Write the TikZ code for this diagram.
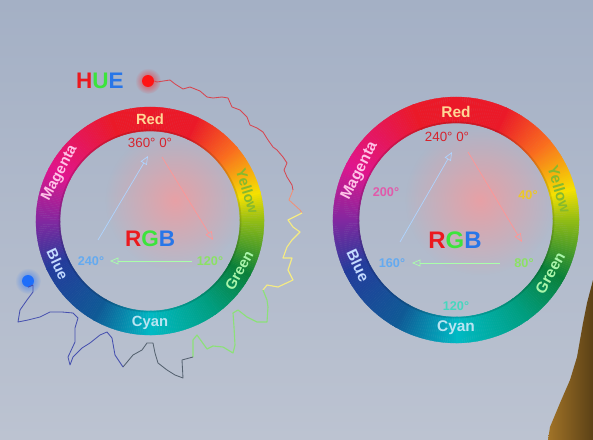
\documentclass[tikz,border=0pt]{standalone}
\usepackage{fontspec}
\setmainfont{Liberation Sans}
\usetikzlibrary{arrows.meta, fadings}

\definecolor{bgtop}{RGB}{164,176,197}
\definecolor{bgbot}{RGB}{188,195,209}
\definecolor{hcyan}{RGB}{0,186,196}
\definecolor{hteal}{RGB}{0,158,128}
\definecolor{hgreen}{RGB}{10,128,58}
\definecolor{hlime}{RGB}{150,190,20}
\definecolor{hyellow}{RGB}{245,225,0}
\definecolor{horange}{RGB}{250,110,30}
\definecolor{hred}{RGB}{235,25,40}
\definecolor{hmagenta}{RGB}{225,20,140}
\definecolor{hpurple}{RGB}{130,40,160}
\definecolor{hblue}{RGB}{35,60,155}
\definecolor{hnavy}{RGB}{15,90,150}
\definecolor{txtred}{RGB}{255,215,150}
\definecolor{txtyellow}{RGB}{135,185,45}
\definecolor{txtgreen}{RGB}{170,245,170}
\definecolor{txtcyan}{RGB}{185,228,242}
\definecolor{txtblue}{RGB}{195,218,255}
\definecolor{txtmagenta}{RGB}{255,195,232}
\definecolor{degred}{RGB}{215,35,45}
\definecolor{degblue}{RGB}{100,170,240}
\definecolor{deggreen}{RGB}{140,225,100}
\definecolor{degpink}{RGB}{225,90,170}
\definecolor{degyellow}{RGB}{235,200,40}
\definecolor{degcyan}{RGB}{70,215,190}
\definecolor{letR}{RGB}{235,25,30}
\definecolor{letG}{RGB}{60,228,60}
\definecolor{letB}{RGB}{40,118,232}
\definecolor{arrblue}{RGB}{175,212,255}
\definecolor{arrred}{RGB}{255,150,150}
\definecolor{arrgreen}{RGB}{170,255,170}
\definecolor{dotred}{RGB}{255,20,20}
\definecolor{dotblue}{RGB}{30,110,250}
\definecolor{wred}{RGB}{215,70,80}
\definecolor{wsalmon}{RGB}{240,145,120}
\definecolor{wyellow}{RGB}{245,235,130}
\definecolor{wgreen}{RGB}{140,225,120}
\definecolor{wgray}{RGB}{85,98,112}
\definecolor{wblue}{RGB}{70,80,175}
\definecolor{coat}{RGB}{140,100,34}

\tikzfading[name=softglow, inner color=transparent!30, outer color=transparent!100]

% colour ring: centre x, centre y, inner radius, outer radius (pixel units, y down)
\newcommand{\huering}[4]{%
  \foreach \sa/\sb/\ca/\cb in {-90/-55/hcyan/hteal, -55/-29/hteal/hgreen,
      -29/0/hgreen/hlime, 0/14/hlime/hyellow, 14/40/hyellow/horange,
      40/65/horange/hred, 65/110/hred/hred, 110/152/hred/hmagenta,
      152/180/hmagenta/hpurple, 180/205/hpurple/hblue, 205/240/hblue/hnavy,
      240/270/hnavy/hcyan}{
    \foreach \a in {\sa,...,\sb}{
      \pgfmathtruncatemacro\p{100*(\a-\sa)/(\sb-\sa)}
      \colorlet{segcol}{\cb!\p!\ca}
      \fill[fill=segcol, draw=segcol, line width=0.2pt]
        ({#1+#4*cos(\a)},{#2-#4*sin(\a)}) -- ({#1+#4*cos(\a+1)},{#2-#4*sin(\a+1)})
        -- ({#1+#3*cos(\a+1)},{#2-#3*sin(\a+1)}) -- ({#1+#3*cos(\a)},{#2-#3*sin(\a)}) -- cycle;
    }
  }
  % soft shade on the inner edge
  \draw[black, opacity=0.12, line width=1.2pt] (#1,#2) circle (#3+0.6);
}

\begin{document}
\begin{tikzpicture}[x=0.025cm, y=-0.025cm,
    ringtext/.style={font=\bfseries\fontsize{10.5}{12}\selectfont, inner sep=0pt},
    bigringtext/.style={font=\bfseries\fontsize{11}{13}\selectfont, inner sep=0pt},
    degtext/.style={font=\bfseries\fontsize{9}{11}\selectfont, inner sep=0pt},
    toptext/.style={font=\fontsize{9.5}{11}\selectfont, inner sep=0pt, text=degred},
    rgbtext/.style={font=\bfseries\fontsize{16}{18}\selectfont, inner sep=0pt},
    rgbarrow/.style={-{Triangle[open, length=6pt, width=5pt]}, line width=0.5pt},
    hdot/.style={circle, inner sep=0pt, minimum size=8.5pt},
    wiggle/.style={line width=0.6pt, line join=round}]
  \useasboundingbox (0,0) rectangle (593,440);
  % Background
  \shade[top color=bgtop, bottom color=bgbot] (0,0) rectangle (593,440);
  % Coat in the lower right corner
  \shade[left color=coat!115!black, right color=coat!65!black]
    (593,280) -- (587,303) -- (583,323) -- (577,357) -- (570,380)
    -- (560,403) -- (550,427) -- (548,440) -- (593,440) -- cycle;

  % Glow inside the wheels
  \fill[arrred, path fading=softglow] (175,200) circle (70);
  \fill[arrred, path fading=softglow] (480,200) circle (75);

  % Left hue wheel
  \huering{150}{221}{90}{114}
  \node[ringtext, text=txtred] (lRed) at (150,119) {Red};
  \node[ringtext, text=txtyellow, rotate=-73] (lYellow) at (247.5,191.2) {Yellow};
  \node[ringtext, text=txtgreen, rotate=61] (lGreen) at (239.2,270.4) {Green};
  \node[ringtext, text=txtcyan] (lCyan) at (150,323) {Cyan};
  \node[ringtext, text=txtblue, rotate=-65] (lBlue) at (57.6,264.1) {Blue};
  \node[ringtext, text=txtmagenta, rotate=62] (lMagenta) at (59.9,173.1) {Magenta};
  \node[toptext] (lTop) at (150,143) {360°~0°};
  \node[degtext, text=degblue] (lDeg240) at (91,261) {240°};
  \node[degtext, text=deggreen] (lDeg120) at (210,261) {120°};
  \node[rgbtext] (lRGB) at (150,239)
    {\textcolor{letR}{R}\textcolor{letG}{G}\textcolor{letB}{B}};
  \coordinate (lBlueTail) at (98,240);
  \coordinate (lBlueTip) at (148,156);
  \coordinate (lRedTail) at (162,157);
  \coordinate (lRedTip) at (213,240);
  \coordinate (lGreenTail) at (192,261);
  \coordinate (lGreenTip) at (110,261);
  \draw[rgbarrow, arrblue] (lBlueTail) -- (lBlueTip);
  \draw[rgbarrow, arrred] (lRedTail) -- (lRedTip);
  \draw[rgbarrow, arrgreen] (lGreenTail) -- (lGreenTip);

  % Right hue wheel
  \huering{456}{220}{97}{123}
  \node[bigringtext, text=txtred] (rRed) at (456,112) {Red};
  \node[bigringtext, text=txtyellow, rotate=-73.5] (rYellow) at (559.5,189.3) {Yellow};
  \node[bigringtext, text=txtgreen, rotate=60.6] (rGreen) at (550.1,273) {Green};
  \node[bigringtext, text=txtcyan] (rCyan) at (456,328) {Cyan};
  \node[bigringtext, text=txtblue, rotate=-65] (rBlue) at (358.1,265.6) {Blue};
  \node[bigringtext, text=txtmagenta, rotate=63] (rMagenta) at (359.8,171) {Magenta};
  \node[toptext] (rTop) at (447,137) {240°~0°};
  \node[degtext, text=degpink] (rDeg200) at (386,192) {200°};
  \node[degtext, text=degyellow] (rDeg40) at (528,195) {40°};
  \node[degtext, text=degblue] (rDeg160) at (392,263) {160°};
  \node[degtext, text=deggreen] (rDeg80) at (524,263) {80°};
  \node[degtext, text=degcyan] (rDeg120) at (456,306) {120°};
  \node[rgbtext, font=\bfseries\fontsize{17}{19}\selectfont] (rRGB) at (455,240)
    {\textcolor{letR}{R}\textcolor{letG}{G}\textcolor{letB}{B}};
  \coordinate (rBlueTail) at (400,242);
  \coordinate (rBlueTip) at (452,152);
  \coordinate (rRedTail) at (468,152);
  \coordinate (rRedTip) at (522,242);
  \coordinate (rGreenTail) at (500,263);
  \coordinate (rGreenTip) at (412,263);
  \draw[rgbarrow, arrblue] (rBlueTail) -- (rBlueTip);
  \draw[rgbarrow, arrred] (rRedTail) -- (rRedTip);
  \draw[rgbarrow, arrgreen] (rGreenTail) -- (rGreenTip);

  % HUE title and the two end dots
  \node[font=\bfseries\fontsize{16}{18}\selectfont, inner sep=0pt] (hue) at (100,81)
    {\textcolor{letR}{H}\textcolor{letG}{U}\textcolor{letB}{E}};
  \fill[dotred, path fading=softglow] (148,81) circle (13);
  \fill[dotblue, path fading=softglow] (28,281) circle (13);
  \node[hdot, fill=dotred] (hueStart) at (148,81) {};
  \node[hdot, fill=dotblue] (hueEnd) at (28,281) {};

  % Wiggly hue path round the left wheel
  \draw[wiggle, wred] (hueStart.east) -- (157,82) -- (170,80) -- (175,84) -- (183,89)
    -- (190,87) -- (200,91) -- (207,97) -- (213,98) -- (222,97) -- (228,98) -- (232,107)
    -- (240,110) -- (247,117) -- (250,125) -- (257,128) -- (263,132) -- (268,140)
    -- (273,147) -- (277,150) -- (283,157) -- (287,163) -- (284,170) -- (287,177)
    -- (292,185) -- (293,190);
  \draw[wiggle, wsalmon] (293,190) -- (289,200) -- (300,210) -- (302,213);
  \draw[wiggle, wyellow, line width=0.8pt] (302,213) -- (288,220) -- (293,227) -- (300,232)
    -- (292,240) -- (287,247) -- (283,258) -- (292,258) -- (288,270) -- (293,280)
    -- (278,287) -- (267,285) -- (263,290);
  \draw[wiggle, wgreen, line width=0.8pt] (263,290) -- (267,300) -- (268,307) -- (267,322)
    -- (257,322) -- (247,317) -- (238,310) -- (233,313) -- (234,327) -- (235,345)
    -- (233,353) -- (223,347) -- (213,346) -- (207,349) -- (197,335) -- (193,340)
    -- (193,357);
  \draw[wiggle, wgray] (193,357) -- (182,360) -- (183,378) -- (175,375) -- (167,370)
    -- (158,363) -- (155,353) -- (153,343) -- (147,343) -- (142,350) -- (133,355)
    -- (123,367);
  \draw[wiggle, wblue] (123,367) -- (115,355) -- (112,338) -- (107,332) -- (100,335)
    -- (90,343) -- (82,348) -- (73,357) -- (70,365) -- (68,357) -- (75,342) -- (75,328)
    -- (78,318) -- (73,313) -- (62,312) -- (50,312) -- (40,317) -- (28,320) -- (18,322)
    -- (20,310) -- (27,300) -- (33,292) -- (33,285) -- (hueEnd.south);
\end{tikzpicture}
\end{document}
